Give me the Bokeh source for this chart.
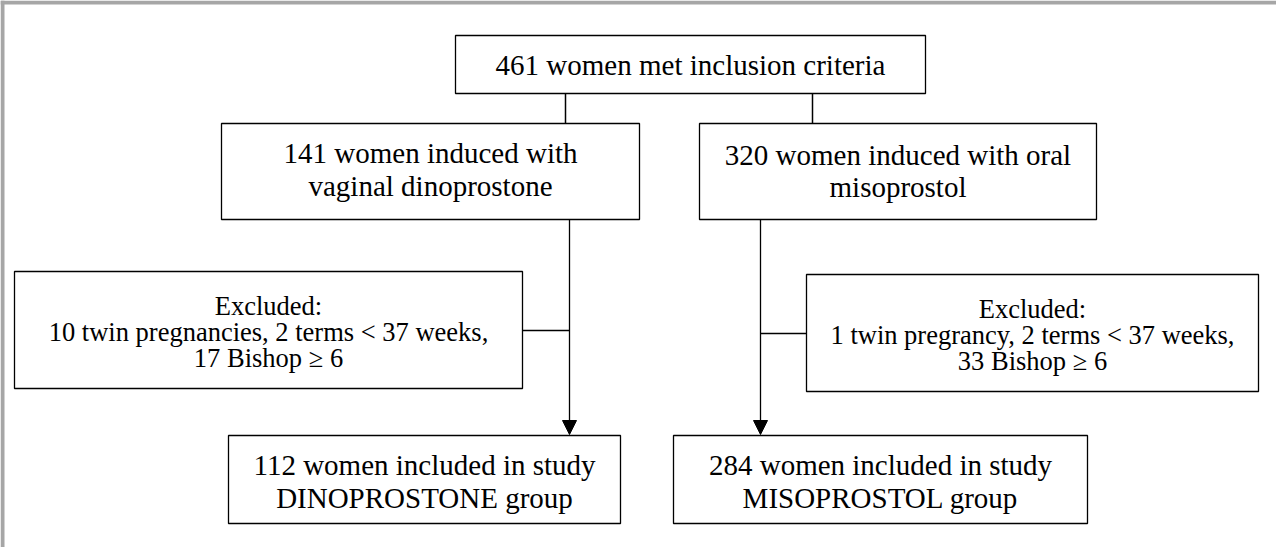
from bokeh.plotting import figure
from bokeh.models import Range1d, Arrow, NormalHead
from bokeh.core.properties import value
from bokeh.embed import file_html
from bokeh.resources import INLINE

# ---- chart content (text of each box) ----
top_lines = ["461 women met inclusion criteria"]
dino_lines = ["141 women induced with", "vaginal dinoprostone"]
miso_lines = ["320 women induced with oral", "misoprostol"]
excl_dino_lines = ["Excluded:", "10 twin pregnancies, 2 terms < 37 weeks,", "17 Bishop \u2265 6"]
excl_miso_lines = ["Excluded:", "1 twin pregrancy, 2 terms < 37 weeks,", "33 Bishop \u2265 6"]
final_dino_lines = ["112 women included in study", "DINOPROSTONE group"]
final_miso_lines = ["284 women included in study", "MISOPROSTOL group"]

# ---- layout (page pixel coordinates): left, right, top, bottom, first line y, line step, font ----
layout = {
    "top":        (463, 933, 43, 101, 72, 0, "29px", top_lines),
    "dino":       (229, 647, 131, 227, 160, 33, "29px", dino_lines),
    "miso":       (707, 1104, 131, 227, 162, 32, "29px", miso_lines),
    "excl_dino":  (22, 530, 279, 396, 313, 26, "26.5px", excl_dino_lines),
    "excl_miso":  (814, 1266, 282, 399, 316, 26, "26.5px", excl_miso_lines),
    "final_dino": (236, 628, 443, 531, 472, 33, "29px", final_dino_lines),
    "final_miso": (681, 1095, 443, 531, 472, 33, "29px", final_miso_lines),
}

OX, OY = 8, 8
W, H = 1276, 547

p = figure(width=W, height=H, output_backend="svg", toolbar_location=None,
           x_range=Range1d(OX, OX + W), y_range=Range1d(OY + H, OY),
           min_border=0, outline_line_color=None)
p.axis.visible = False
p.grid.visible = False
p.background_fill_color = "white"
p.border_fill_color = "white"

# grey frame (top and left)
p.quad(left=[8], right=[1284], top=[8], bottom=[12], fill_color="#a6a6a6", line_color=None)
p.quad(left=[8], right=[12], top=[8], bottom=[555], fill_color="#a6a6a6", line_color=None)

# boxes and text
for name, (l, r, t, b, y0, step, fs, lines) in layout.items():
    p.quad(left=[l], right=[r], top=[t], bottom=[b], fill_color="white",
           line_color="black", line_width=1.3)
    xs = [(l + r) / 2] * len(lines)
    ys = [y0 + i * step for i in range(len(lines))]
    p.text(x=xs, y=ys, text=lines, text_align="center", text_baseline="middle",
           text_font=value("Liberation Serif"), text_font_size=fs, text_color="black")

# connectors from top box to second row
p.segment(x0=[573, 820], y0=[101, 101], x1=[573, 820], y1=[131, 131],
          line_color="black", line_width=1.5)
# side connectors to exclusion boxes
p.segment(x0=[530, 768], y0=[338, 341], x1=[577, 814], y1=[338, 341],
          line_color="black", line_width=1.5)

# flow arrows down to final boxes
for x in (577, 768):
    p.add_layout(Arrow(end=NormalHead(size=14, fill_color="black", line_color="black"),
                       x_start=x, y_start=227, x_end=x, y_end=442,
                       line_color="black", line_width=1.3))

open("out.html", "w").write(file_html(p, INLINE))
